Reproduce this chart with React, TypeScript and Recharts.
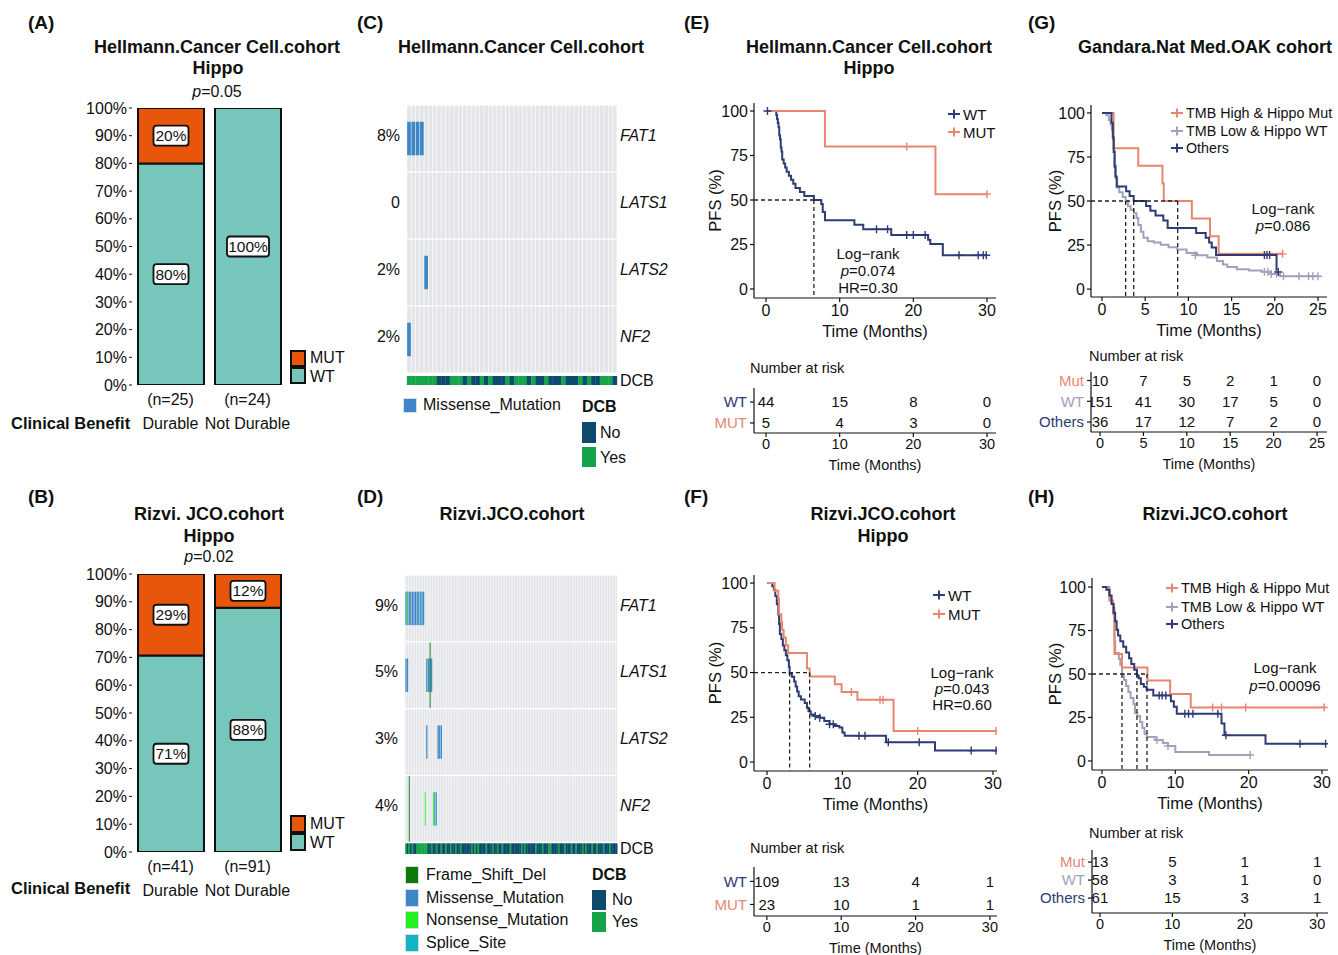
import React from "react";
import {
  BarChart,
  Bar,
  XAxis,
  YAxis,
  LabelList,
  ComposedChart,
  Line,
  Scatter,
  ScatterChart,
  ReferenceLine,
} from "recharts";

const FONT = '"Liberation Sans", Arial, Helvetica, sans-serif';
const INK = "#111";
const TEAL = "#76c6bc";
const ORANGE = "#e8560b";
const NAVY = "#2e3b75";
const SALMON = "#e8866f";
const LILAC = "#a3a0ba";
const GRID_BG = "#e4e5e8";
const DCB_NO = "#0d4a6e";
const DCB_YES = "#15a44a";

// ---- panels A / B : stacked proportions
const GROUPS = ["Durable", "Not Durable"];
const A_N = [25, 24];
const A_WT = [80, 100];
const A_MUT = [20, 0];
const B_N = [41, 91];
const B_WT = [70.7, 87.9];
const B_MUT = [29.3, 12.1];
const PCT_TICKS = [0, 10, 20, 30, 40, 50, 60, 70, 80, 90, 100];

// ---- panels C / D : oncoplots
const GENES = ["FAT1", "LATS1", "LATS2", "NF2"];
const C_PCT = ["8%", "0", "2%", "2%"];
const D_PCT = ["9%", "5%", "3%", "4%"];
const C_DCB = "YYYYYYYNNNYYYNYNNYNYNNNYNYYYNYNNYNNNYNNNYNYNNYYYN";
const C_MUT: Record<string, [number, string][]> = {
  FAT1: [[0, "Missense_Mutation"], [1, "Missense_Mutation"], [2, "Missense_Mutation"], [3, "Missense_Mutation"]],
  LATS1: [],
  LATS2: [[4, "Missense_Mutation"]],
  NF2: [[0, "Missense_Mutation"]],
};
const D_COUNT = 132;
const D_DCB_YES = [0, 2, 4, 7, 8, 9, 10, 11, 12, 13, 16, 19, 22, 25, 28, 31, 34, 41, 43, 45, 50, 54, 57, 60, 65, 72, 74, 81, 85, 89, 90, 95, 99, 103, 106, 110, 112, 116, 119, 123, 127];
const D_MUT: Record<string, [number, string][]> = {
  FAT1: [
    [0, "Missense_Mutation"], [1, "Missense_Mutation"], [1, "Nonsense_Mutation"], [2, "Missense_Mutation"],
    [3, "Missense_Mutation"], [4, "Missense_Mutation"], [5, "Missense_Mutation"], [6, "Missense_Mutation"],
    [7, "Missense_Mutation"], [8, "Missense_Mutation"], [9, "Missense_Mutation"], [9, "Splice_Site"],
    [10, "Missense_Mutation"], [11, "Missense_Mutation"],
  ],
  LATS1: [
    [0, "Missense_Mutation"], [1, "Missense_Mutation"], [13, "Missense_Mutation"], [14, "Missense_Mutation"],
    [15, "Missense_Mutation"], [15, "Frame_Shift_Del"], [16, "Missense_Mutation"],
  ],
  LATS2: [[13, "Missense_Mutation"], [20, "Missense_Mutation"], [21, "Missense_Mutation"], [22, "Missense_Mutation"]],
  NF2: [[2, "Frame_Shift_Del"], [12, "Nonsense_Mutation"], [17, "Nonsense_Mutation"], [18, "Missense_Mutation"], [19, "Splice_Site"]],
};
const MUT_COLORS: Record<string, string> = {
  Frame_Shift_Del: "#0b7a0b",
  Missense_Mutation: "#3d87c7",
  Nonsense_Mutation: "#22f022",
  Splice_Site: "#13b3c6",
};

// ---- panel E : Hellmann KM
const E_WT_T = [0, 1.4, 1.5, 1.6, 1.7, 1.8, 1.9, 2.0, 2.1, 2.2, 2.4, 2.6, 2.8, 3.1, 3.4, 3.7, 4.0, 4.6, 5.2, 6.5, 7.5, 7.7, 8.0, 12.0, 13.2, 17.0, 22.0, 22.3, 24.0, 30.0];
const E_WT_S = [100, 97.7, 95.5, 93.2, 90.9, 86.4, 84.1, 79.5, 77.3, 72.7, 70.5, 68.2, 65.9, 63.6, 61.4, 59.1, 56.8, 54.5, 52.3, 50.0, 47.7, 43.2, 38.6, 36.1, 33.6, 30.4, 27.6, 25.3, 19.0, 19.0];
const E_WT_CT = [0.2, 15.0, 16.5, 19.1, 20.0, 21.6, 26.2, 28.8, 29.5, 29.9];
const E_WT_CS = [100, 33.6, 33.6, 30.4, 30.4, 30.4, 19.0, 19.0, 19.0, 19.0];
const E_MUT_T = [0, 8.0, 23.0, 30.0];
const E_MUT_S = [100, 80, 53.3, 53.3];
const E_MUT_CT = [19.1, 30.0];
const E_MUT_CS = [80, 53.3];
const E_TIMES = [0, 10, 20, 30];
const E_RISK_WT = [44, 15, 8, 0];
const E_RISK_MUT = [5, 4, 3, 0];

// ---- panel F : Rizvi KM
const F_WT_T = [0, 0.7, 0.9, 1.1, 1.3, 1.5, 1.6, 1.7, 1.9, 2.1, 2.3, 2.5, 2.7, 2.9, 3.0, 3.3, 3.6, 3.8, 4.0, 4.2, 4.5, 5.0, 5.3, 5.5, 5.8, 6.3, 7.0, 7.6, 8.3, 9.0, 9.6, 10.0, 10.3, 15.8, 22.3, 30.5];
const F_WT_S = [100, 98.2, 96.3, 92.7, 88.1, 82.6, 77.1, 71.6, 68.8, 65.1, 62.4, 59.6, 56.9, 53.2, 49.5, 47.7, 45.0, 42.2, 39.4, 36.7, 34.9, 33.0, 30.3, 28.4, 26.6, 25.7, 24.8, 23.0, 21.1, 20.2, 19.3, 16.5, 14.7, 11.0, 6.4, 6.4];
const F_WT_CT = [6.4, 7.0, 8.3, 8.8, 12.2, 13.0, 16.1, 20.2, 27.1, 30.4];
const F_WT_CS = [25.7, 24.8, 21.1, 21.1, 14.7, 14.7, 11.0, 11.0, 6.4, 6.4];
const F_MUT_T = [0, 1.0, 1.5, 1.6, 1.9, 2.0, 2.2, 2.5, 2.8, 5.3, 5.66, 9.0, 9.9, 12.0, 16.8, 30.5];
const F_MUT_S = [100, 95.7, 91.3, 82.6, 78.3, 73.9, 69.6, 65.2, 60.9, 52.2, 47.8, 43.5, 39.1, 34.8, 17.4, 17.4];
const F_MUT_CT = [11.2, 15.0, 15.4, 20.0, 30.4];
const F_MUT_CS = [39.1, 34.8, 34.8, 17.4, 17.4];
const F_RISK_WT = [109, 13, 4, 1];
const F_RISK_MUT = [23, 10, 1, 1];

// ---- panel G : OAK KM
const G_MUT_T = [0, 1.35, 4.2, 7.0, 7.15, 10.4, 12.5, 13.5, 20.9];
const G_MUT_S = [100, 80, 70, 60, 50, 40, 30, 20, 20];
const G_MUT_CT = [20.9];
const G_MUT_CS = [20];
const G_WT_T = [0, 0.5, 0.8, 1.0, 1.15, 1.3, 1.4, 1.5, 1.6, 1.75, 2.0, 2.4, 2.74, 3.0, 3.3, 3.7, 4.0, 4.2, 4.5, 4.8, 5.3, 6.0, 6.8, 7.7, 8.7, 9.8, 11.0, 12.2, 13.3, 14.0, 14.5, 15.6, 17.0, 18.5, 19.5, 20.6, 25.0];
const G_WT_S = [100, 98.7, 96.0, 93.4, 90.1, 84.8, 78.1, 70.2, 62.9, 57.6, 55.0, 52.3, 49.7, 47.0, 45.0, 43.0, 40.4, 36.4, 32.5, 29.1, 27.2, 26.5, 25.2, 23.8, 22.5, 20.5, 19.2, 17.9, 15.9, 13.9, 12.6, 11.3, 10.6, 9.9, 8.6, 7.3, 7.3];
const G_WT_CT = [10.8, 18.8, 19.2, 19.6, 20.2, 21.0, 22.8, 23.9, 24.4, 25.0];
const G_WT_CS = [19.2, 9.9, 9.9, 8.6, 8.6, 7.3, 7.3, 7.3, 7.3, 7.3];
const G_OTH_T = [0, 1.1, 1.25, 1.35, 1.45, 1.55, 1.7, 2.8, 3.2, 3.67, 5.1, 5.6, 6.2, 7.1, 7.6, 10.9, 12.0, 12.4, 12.7, 13.2, 20.2, 20.4];
const G_OTH_S = [100, 94.4, 86.1, 77.8, 69.4, 63.9, 58.3, 55.6, 52.8, 50.0, 47.2, 44.4, 41.7, 38.9, 34.7, 31.9, 29.2, 26.4, 23.6, 19.4, 9.7, 9.7];
const G_OTH_CT = [18.8, 19.1, 19.4, 20.4];
const G_OTH_CS = [19.4, 19.4, 19.4, 9.7];
const G_TIMES = [0, 5, 10, 15, 20, 25];
const G_RISK_MUT = [10, 7, 5, 2, 1, 0];
const G_RISK_WT = [151, 41, 30, 17, 5, 0];
const G_RISK_OTH = [36, 17, 12, 7, 2, 0];

// ---- panel H : Rizvi 3 groups KM
const H_MUT_T = [0, 1.0, 1.5, 1.7, 2.73, 6.2, 9.3, 12.1, 30.5];
const H_MUT_S = [100, 92.3, 84.6, 61.5, 53.8, 46.2, 38.5, 30.8, 30.8];
const H_MUT_CT = [15.1, 16.3, 19.6, 30.3];
const H_MUT_CS = [30.8, 30.8, 30.8, 30.8];
const H_WT_T = [0, 0.9, 1.1, 1.3, 1.5, 1.7, 1.8, 2.3, 2.5, 2.73, 3.0, 3.3, 3.6, 3.9, 4.3, 4.5, 4.8, 5.2, 5.5, 5.8, 6.1, 7.3, 8.3, 9.0, 10.0, 14.6, 20.2];
const H_WT_S = [100, 98.3, 94.8, 91.4, 87.9, 69.0, 62.1, 58.6, 55.2, 50.0, 46.6, 43.1, 39.7, 36.2, 32.8, 27.6, 25.9, 22.4, 19.0, 15.5, 13.8, 12.1, 10.3, 8.6, 5.2, 3.4, 3.4];
const H_WT_CT = [7.5, 9.0, 20.2];
const H_WT_CS = [12.1, 8.6, 3.4];
const H_OTH_T = [0, 0.6, 1.0, 1.3, 1.6, 1.8, 2.0, 2.2, 2.5, 2.9, 3.3, 3.7, 4.0, 4.4, 4.77, 5.0, 5.3, 5.7, 6.1, 7.0, 9.4, 9.8, 10.2, 16.3, 16.7, 22.3, 30.5];
const H_OTH_S = [100, 98.4, 95.1, 90.2, 85.2, 80.3, 75.4, 72.1, 68.9, 65.6, 62.3, 59.0, 55.7, 52.5, 49.2, 47.5, 44.3, 42.6, 41.0, 37.7, 34.4, 31.1, 27.2, 21.5, 14.8, 9.9, 9.9];
const H_OTH_CT = [7.8, 8.2, 8.7, 11.3, 11.8, 12.4, 15.8, 16.9, 27.0, 30.5];
const H_OTH_CS = [37.7, 37.7, 37.7, 27.2, 27.2, 27.2, 27.2, 14.8, 9.9, 9.9];
const H_RISK_MUT = [13, 5, 1, 1];
const H_RISK_WT = [58, 3, 1, 0];
const H_RISK_OTH = [61, 15, 3, 1];

const SURV_TICKS = [0, 25, 50, 75, 100];

// ---------- small html helpers
type TxtProps = {
  x: number;
  y: number;
  size?: number;
  bold?: boolean;
  italic?: boolean;
  color?: string;
  align?: "left" | "center" | "right";
  children: React.ReactNode;
};

const Txt = ({ x, y, size = 16, bold, italic, color = INK, align = "center", children }: TxtProps) => {
  const tx = align === "center" ? "-50%" : align === "right" ? "-100%" : "0";
  return (
    <div
      style={{
        position: "absolute",
        left: x,
        top: y,
        transform: `translate(${tx}, -50%)`,
        fontSize: size,
        fontWeight: bold ? 700 : 400,
        fontStyle: italic ? "italic" : "normal",
        color,
        whiteSpace: "nowrap",
        lineHeight: 1,
      }}
    >
      {children}
    </div>
  );
};

const Sq = ({ x, y, w, h, color, border }: any) => (
  <div
    style={{
      position: "absolute",
      left: x,
      top: y,
      width: w,
      height: h,
      background: color,
      boxSizing: "border-box",
      border: border || "none",
    }}
  />
);

const KMKey = ({ x, y, color, label, size = 15 }: any) => (
  <>
    <svg style={{ position: "absolute", left: x - 7, top: y - 6 }} width={14} height={12}>
      <path d="M1,6h12M7,1.5v9" stroke={color} strokeWidth={2} />
    </svg>
    <Txt x={x + 9} y={y} align="left" size={size}>
      {label}
    </Txt>
  </>
);

// ---------- A / B
const BoxLabel = (p: any) => {
  const vb = p.viewBox ?? p;
  const value = Number(p.value);
  if (!value) return null;
  const txt = `${Math.round(value)}%`;
  const cx = vb.x + vb.width / 2;
  const cy = vb.y + vb.height / 2;
  const bw = txt.length > 3 ? 42 : 35;
  return (
    <g>
      <rect x={cx - bw / 2} y={cy - 10} width={bw} height={20} rx={3} fill="#fff" stroke={INK} strokeWidth={1.8} />
      <text x={cx} y={cy} dy="0.36em" textAnchor="middle" fontSize={15.5} fill={INK}>
        {txt}
      </text>
    </g>
  );
};

function StackPanel({ left, top, height, n, wt, mut }: any) {
  const data = GROUPS.map((g, i) => ({ group: g, n: n[i], WT: wt[i], MUT: mut[i] }));
  const GroupTick = (p: any) => {
    const row = data.find((d) => d.group === p.payload.value);
    return (
      <g>
        <text x={p.x} y={p.y + 20} textAnchor="middle" fontSize={16} fill={INK}>
          (n={row ? row.n : ""})
        </text>
        <text x={p.x} y={p.y + 44} textAnchor="middle" fontSize={16} fill={INK}>
          {p.payload.value}
        </text>
      </g>
    );
  };
  return (
    <div style={{ position: "absolute", left, top }}>
      <BarChart width={244} height={height} data={data} margin={{ top: 10, right: 18, bottom: 0, left: 12 }} barSize={66}>
        <XAxis dataKey="group" axisLine={false} tickLine={false} tickSize={0} tickMargin={0} height={50} interval={0} tick={GroupTick} />
        <YAxis
          domain={[0, 100]}
          ticks={PCT_TICKS}
          interval={0}
          tickFormatter={(v) => `${v}%`}
          width={60}
          axisLine={false}
          stroke={INK}
          tickSize={3}
          tickMargin={2}
          tick={{ fill: INK, fontSize: 16 }}
          allowDataOverflow
        />
        <Bar dataKey="WT" stackId="s" fill={TEAL} stroke={INK} strokeWidth={2} isAnimationActive={false}>
          <LabelList dataKey="WT" content={BoxLabel} />
        </Bar>
        <Bar dataKey="MUT" stackId="s" fill={ORANGE} stroke={INK} strokeWidth={2} isAnimationActive={false}>
          <LabelList dataKey="MUT" content={BoxLabel} />
        </Bar>
      </BarChart>
    </div>
  );
}

// ---------- C / D oncoplot
// cells are centred on the bar the library places, widened to the full sample band
const GeneCell = (p: any) => {
  const { x, y, width: w, height: h, payload, gene, band, sep } = p;
  if (x == null || !payload) return null;
  const muts: string[] = payload.m[gene] || [];
  const cw = band - sep;
  const x0 = x + w / 2 - cw / 2;
  const thin = Math.max(band * 0.5, 0.9);
  const tx = x + w / 2 - thin / 2;
  return (
    <g>
      <rect x={x0} y={y + 0.6} width={cw} height={h - 1.2} fill={GRID_BG} />
      {muts.includes("Missense_Mutation") && (
        <rect x={x0} y={y + h / 4} width={cw} height={h / 2} fill={MUT_COLORS.Missense_Mutation} />
      )}
      {muts.includes("Splice_Site") && (
        <rect x={tx} y={y + h / 4} width={thin} height={h / 2} fill={MUT_COLORS.Splice_Site} />
      )}
      {muts.includes("Frame_Shift_Del") && (
        <rect x={tx} y={y + 0.6} width={thin} height={h - 1.2} fill={MUT_COLORS.Frame_Shift_Del} />
      )}
      {muts.includes("Nonsense_Mutation") && (
        <rect x={tx} y={y + h / 4} width={thin} height={h / 2} fill={MUT_COLORS.Nonsense_Mutation} />
      )}
    </g>
  );
};

const DcbCell = (p: any) => {
  if (p.x == null || !p.payload) return null;
  const x0 = p.x + p.width / 2 - p.band / 2;
  return <rect x={x0} y={p.y} width={p.band + 0.3} height={p.height} fill={p.payload.d === "Y" ? DCB_YES : DCB_NO} />;
};

function OncoPanel({ left, top, width, height, leftW, dcb, muts, pct, dcbH, gapH, sep }: any) {
  const data = dcb.map((d: string, i: number) => {
    const m: Record<string, string[]> = {};
    GENES.forEach((g) => {
      m[g] = muts[g].filter((e: [number, string]) => e[0] === i).map((e: [number, string]) => e[1]);
    });
    return { id: i, d, m, dcb: dcbH, gap: gapH, FAT1: 1, LATS1: 1, LATS2: 1, NF2: 1 };
  });
  const rightW = 60;
  const pad = 10;
  const band = (width - leftW - rightW) / data.length;
  const total = dcbH + gapH + GENES.length;
  // gene rows are stacked bottom-up: NF2, LATS2, LATS1, FAT1
  const centers = GENES.map((_, i) => dcbH + gapH + (GENES.length - 1 - i) + 0.5);
  const idx = (v: number) => centers.findIndex((c) => Math.abs(c - v) < 1e-6);
  const LeftTick = (p: any) => {
    const i = idx(p.payload.value);
    return (
      <text x={p.x} y={p.y - 3.5} dy="0.36em" textAnchor="end" fontSize={16} fill={INK}>
        {i >= 0 ? pct[i] : ""}
      </text>
    );
  };
  const RightTick = (p: any) => {
    const i = idx(p.payload.value);
    return (
      <text x={p.x} y={i >= 0 ? p.y - 3.5 : p.y} dy="0.36em" textAnchor="start" fontSize={16} fill={INK} fontStyle={i >= 0 ? "italic" : "normal"}>
        {i >= 0 ? GENES[i] : "DCB"}
      </text>
    );
  };
  return (
    <div style={{ position: "absolute", left, top: top - pad }}>
      <BarChart width={width} height={height + 2 * pad} data={data} margin={{ top: pad, right: 0, bottom: pad, left: 0 }} barCategoryGap={0}>
        <XAxis dataKey="id" hide />
        <YAxis
          yAxisId="l"
          type="number"
          domain={[0, total]}
          ticks={centers}
          interval={0}
          allowDataOverflow
          width={leftW}
          axisLine={false}
          tickLine={false}
          tickSize={0}
          tickMargin={7}
          tick={LeftTick}
        />
        <YAxis
          yAxisId="r"
          orientation="right"
          type="number"
          domain={[0, total]}
          ticks={[dcbH / 2, ...centers]}
          interval={0}
          allowDataOverflow
          width={rightW}
          axisLine={false}
          tickLine={false}
          tickSize={0}
          tickMargin={3}
          tick={RightTick}
        />
        <Bar yAxisId="l" dataKey="dcb" stackId="a" shape={(p: any) => <DcbCell {...p} band={band} />} isAnimationActive={false} />
        <Bar yAxisId="l" dataKey="gap" stackId="a" fill="transparent" isAnimationActive={false} />
        {GENES.slice()
          .reverse()
          .map((g) => (
            <Bar
              key={g}
              yAxisId="l"
              dataKey={g}
              stackId="a"
              shape={(p: any) => <GeneCell {...p} gene={g} band={band} sep={sep} />}
              isAnimationActive={false}
            />
          ))}
      </BarChart>
    </div>
  );
}

// ---------- KM
type Curve = { key: string; t: number[]; s: number[]; ct: number[]; cs: number[]; color: string };
const pts = (t: number[], s: number[]) => t.map((v, i) => ({ t: v, s: s[i] }));

const Plus = (p: any) => {
  const { cx, cy, fill } = p;
  if (cx == null || cy == null) return null;
  return <path d={`M${cx - 4},${cy}h8M${cx},${cy - 4}v8`} stroke={fill} strokeWidth={1.4} />;
};

const timeTitle = (size: number, dy: number) => (p: any) => {
  const vb = p.viewBox || {};
  return (
    <text x={vb.x + vb.width / 2} y={vb.y + dy} textAnchor="middle" fontSize={size} fill={INK}>
      Time (Months)
    </text>
  );
};

const pfsTitle = (p: any) => {
  const vb = p.viewBox || {};
  const cx = vb.x + 31;
  const cy = vb.y + vb.height / 2;
  return (
    <text x={cx} y={cy} transform={`rotate(-90 ${cx} ${cy})`} textAnchor="middle" fontSize={16.5} fill={INK}>
      PFS (%)
    </text>
  );
};

function KMPanel({ left, top, width, height, yW, mr, xDomain, yDomain, xTicks, curves, medians }: any) {
  const mMax = Math.max(...medians);
  return (
    <div style={{ position: "absolute", left, top }}>
      <ComposedChart width={width} height={height} margin={{ top: 8, right: mr, bottom: 0, left: 0 }}>
        <XAxis
          type="number"
          dataKey="t"
          domain={xDomain}
          ticks={xTicks}
          interval={0}
          allowDataOverflow
          height={45}
          stroke={INK}
          strokeWidth={1.2}
          tickSize={4}
          tickMargin={3}
          tick={{ fill: INK, fontSize: 16 }}
          label={timeTitle(16.5, 39)}
        />
        <YAxis
          type="number"
          dataKey="s"
          domain={yDomain}
          ticks={SURV_TICKS}
          interval={0}
          allowDataOverflow
          width={yW}
          stroke={INK}
          strokeWidth={1.2}
          tickSize={4}
          tickMargin={2}
          tick={{ fill: INK, fontSize: 16 }}
          label={pfsTitle}
        />
        {curves.map((c: Curve) => (
          <Line
            key={c.key}
            data={pts(c.t, c.s)}
            dataKey="s"
            type="stepAfter"
            stroke={c.color}
            strokeWidth={2}
            dot={false}
            activeDot={false}
            isAnimationActive={false}
          />
        ))}
        {curves.map((c: Curve) => (
          <Scatter key={c.key + "c"} data={pts(c.ct, c.cs)} dataKey="s" fill={c.color} shape={Plus} isAnimationActive={false} />
        ))}
        <ReferenceLine
          segment={[{ x: xDomain[0], y: 50 }, { x: mMax, y: 50 }]}
          stroke="#222"
          strokeWidth={1.3}
          strokeDasharray="4 3"
          ifOverflow="visible"
        />
        {medians.map((m: number) => (
          <ReferenceLine
            key={m}
            segment={[{ x: m, y: 50 }, { x: m, y: yDomain[0] }]}
            stroke="#222"
            strokeWidth={1.3}
            strokeDasharray="4 3"
            ifOverflow="visible"
          />
        ))}
      </ComposedChart>
    </div>
  );
}

const RiskNum = (p: any) => {
  if (p.cx == null || !p.payload) return null;
  return (
    <text x={p.cx} y={p.cy} dy="0.36em" textAnchor="middle" fontSize={15} fill={INK}>
      {p.payload.n}
    </text>
  );
};

function RiskTable({ left, top, width, height, yW, mr, xDomain, yDomain, times, rows }: any) {
  const data = rows.flatMap((r: any, ri: number) =>
    r.values.map((n: number, i: number) => ({ t: times[i], row: rows.length - ri, n }))
  );
  const RowTick = (p: any) => {
    const r = rows[rows.length - p.payload.value];
    if (!r) return null;
    return (
      <text x={p.x} y={p.y} dy="0.36em" textAnchor="end" fontSize={15} fill={r.color}>
        {r.label}
      </text>
    );
  };
  return (
    <div style={{ position: "absolute", left, top }}>
      <ScatterChart width={width} height={height} margin={{ top: 0, right: mr, bottom: 0, left: 0 }}>
        <XAxis
          type="number"
          dataKey="t"
          domain={xDomain}
          ticks={times}
          interval={0}
          allowDataOverflow
          height={40}
          stroke={INK}
          strokeWidth={1.2}
          tickSize={4}
          tickMargin={2}
          tick={{ fill: INK, fontSize: 14.5 }}
          label={timeTitle(14.5, 37)}
        />
        <YAxis
          type="number"
          dataKey="row"
          domain={yDomain}
          ticks={rows.map((_: any, i: number) => i + 1)}
          interval={0}
          allowDataOverflow
          width={yW}
          stroke={INK}
          strokeWidth={1.2}
          tickSize={4}
          tickMargin={3}
          tick={RowTick}
        />
        <Scatter data={data} shape={RiskNum} isAnimationActive={false} />
      </ScatterChart>
    </div>
  );
}

export default function App() {
  const cDcb = C_DCB.split("");
  const dDcb = Array.from({ length: D_COUNT }, (_, i) => (D_DCB_YES.includes(i) ? "Y" : "N"));

  const eCurves: Curve[] = [
    { key: "wt", t: E_WT_T, s: E_WT_S, ct: E_WT_CT, cs: E_WT_CS, color: NAVY },
    { key: "mut", t: E_MUT_T, s: E_MUT_S, ct: E_MUT_CT, cs: E_MUT_CS, color: SALMON },
  ];
  const fCurves: Curve[] = [
    { key: "wt", t: F_WT_T, s: F_WT_S, ct: F_WT_CT, cs: F_WT_CS, color: NAVY },
    { key: "mut", t: F_MUT_T, s: F_MUT_S, ct: F_MUT_CT, cs: F_MUT_CS, color: SALMON },
  ];
  const gCurves: Curve[] = [
    { key: "wt", t: G_WT_T, s: G_WT_S, ct: G_WT_CT, cs: G_WT_CS, color: LILAC },
    { key: "mut", t: G_MUT_T, s: G_MUT_S, ct: G_MUT_CT, cs: G_MUT_CS, color: SALMON },
    { key: "oth", t: G_OTH_T, s: G_OTH_S, ct: G_OTH_CT, cs: G_OTH_CS, color: NAVY },
  ];
  const hCurves: Curve[] = [
    { key: "wt", t: H_WT_T, s: H_WT_S, ct: H_WT_CT, cs: H_WT_CS, color: LILAC },
    { key: "mut", t: H_MUT_T, s: H_MUT_S, ct: H_MUT_CT, cs: H_MUT_CS, color: SALMON },
    { key: "oth", t: H_OTH_T, s: H_OTH_S, ct: H_OTH_CT, cs: H_OTH_CS, color: NAVY },
  ];

  return (
    <div
      style={{
        position: "absolute",
        left: 0,
        top: 0,
        width: 1338,
        height: 955,
        background: "#fff",
        fontFamily: FONT,
        color: INK,
        overflow: "hidden",
      }}
    >
      {/* panel letters */}
      <Txt x={28} y={22} size={19} bold align="left">(A)</Txt>
      <Txt x={28} y={496} size={19} bold align="left">(B)</Txt>
      <Txt x={357} y={22} size={19} bold align="left">(C)</Txt>
      <Txt x={357} y={496} size={19} bold align="left">(D)</Txt>
      <Txt x={684} y={22} size={19} bold align="left">(E)</Txt>
      <Txt x={684} y={496} size={19} bold align="left">(F)</Txt>
      <Txt x={1028} y={22} size={19} bold align="left">(G)</Txt>
      <Txt x={1028} y={496} size={19} bold align="left">(H)</Txt>

      {/* A */}
      <Txt x={217} y={47} size={18} bold>Hellmann.Cancer Cell.cohort</Txt>
      <Txt x={218} y={68} size={18} bold>Hippo</Txt>
      <Txt x={217} y={92} size={16}><i>p</i>=0.05</Txt>
      <StackPanel left={60} top={98} height={337} n={A_N} wt={A_WT} mut={A_MUT} />
      <Sq x={290} y={350} w={16} h={17} color={ORANGE} border="2px solid #111" />
      <Sq x={290} y={367} w={16} h={17} color={TEAL} border="2px solid #111" />
      <Txt x={310} y={358} size={16} align="left">MUT</Txt>
      <Txt x={310} y={377} size={16} align="left">WT</Txt>
      <Txt x={11} y={423} size={16.5} bold align="left">Clinical Benefit</Txt>

      {/* B */}
      <Txt x={209} y={514} size={18} bold>Rizvi. JCO.cohort</Txt>
      <Txt x={209} y={536} size={18} bold>Hippo</Txt>
      <Txt x={209} y={557} size={16}><i>p</i>=0.02</Txt>
      <StackPanel left={60} top={564} height={338} n={B_N} wt={B_WT} mut={B_MUT} />
      <Sq x={290} y={815} w={16} h={18} color={ORANGE} border="2px solid #111" />
      <Sq x={290} y={833} w={16} h={18} color={TEAL} border="2px solid #111" />
      <Txt x={310} y={824} size={16} align="left">MUT</Txt>
      <Txt x={310} y={843} size={16} align="left">WT</Txt>
      <Txt x={11} y={888} size={16.5} bold align="left">Clinical Benefit</Txt>

      {/* C */}
      <Txt x={521} y={47} size={18} bold>Hellmann.Cancer Cell.cohort</Txt>
      <OncoPanel left={370} top={105} width={307} height={280} leftW={37} dcb={cDcb} muts={C_MUT} pct={C_PCT} dcbH={0.134} gapH={0.045} sep={0.6} />
      <Sq x={403} y={398} w={14} h={15} color={MUT_COLORS.Missense_Mutation} border="1px solid #dcdcdf" />
      <Txt x={423} y={405} size={16} align="left">Missense_Mutation</Txt>
      <Txt x={582} y={407} size={16} bold align="left">DCB</Txt>
      <Sq x={582} y={422} w={14} h={21} color={DCB_NO} />
      <Sq x={582} y={447} w={14} h={20} color={DCB_YES} />
      <Txt x={600} y={433} size={16} align="left">No</Txt>
      <Txt x={600} y={458} size={16} align="left">Yes</Txt>

      {/* D */}
      <Txt x={512} y={514} size={18} bold>Rizvi.JCO.cohort</Txt>
      <OncoPanel left={370} top={575} width={307} height={279} leftW={35} dcb={dDcb} muts={D_MUT} pct={D_PCT} dcbH={0.16} gapH={0.015} sep={0.3} />
      {[
        ["Frame_Shift_Del", 875],
        ["Missense_Mutation", 898],
        ["Nonsense_Mutation", 920],
        ["Splice_Site", 943],
      ].map(([k, y]) => (
        <React.Fragment key={k as string}>
          <Sq x={405} y={(y as number) - 9} w={14} h={18} color={MUT_COLORS[k as string]} border="1px solid #dcdcdf" />
          <Txt x={426} y={y as number} size={16} align="left">{k}</Txt>
        </React.Fragment>
      ))}
      <Txt x={592} y={875} size={16} bold align="left">DCB</Txt>
      <Sq x={592} y={890} w={14} h={20} color={DCB_NO} />
      <Sq x={592} y={912} w={14} h={20} color={DCB_YES} />
      <Txt x={612} y={900} size={16} align="left">No</Txt>
      <Txt x={612} y={922} size={16} align="left">Yes</Txt>

      {/* E */}
      <Txt x={869} y={47} size={18} bold>Hellmann.Cancer Cell.cohort</Txt>
      <Txt x={869} y={68} size={18} bold>Hippo</Txt>
      <KMPanel left={690} top={95} width={316} height={248} yW={64} mr={10} xDomain={[-1.63, 31.22]} yDomain={[-5.06, 104.5]} xTicks={E_TIMES} curves={eCurves} medians={[6.5]} />
      <KMKey x={954} y={114} color={NAVY} label="WT" />
      <KMKey x={954} y={132} color={SALMON} label="MUT" />
      <Txt x={868} y={253} size={15}>Log−rank</Txt>
      <Txt x={868} y={270} size={15}><i>p</i>=0.074</Txt>
      <Txt x={868} y={287} size={15}>HR=0.30</Txt>
      <Txt x={750} y={368} size={14.5} align="left">Number at risk</Txt>
      <RiskTable
        left={690}
        top={388}
        width={316}
        height={85}
        yW={64}
        mr={10}
        xDomain={[-1.63, 31.22]}
        yDomain={[0.52, 2.67]}
        times={E_TIMES}
        rows={[
          { label: "WT", color: NAVY, values: E_RISK_WT },
          { label: "MUT", color: SALMON, values: E_RISK_MUT },
        ]}
      />

      {/* F */}
      <Txt x={883} y={514} size={18} bold>Rizvi.JCO.cohort</Txt>
      <Txt x={883} y={536} size={18} bold>Hippo</Txt>
      <KMPanel left={690} top={567} width={317} height={249} yW={64} mr={10} xDomain={[-1.73, 30.53]} yDomain={[-5, 104.5]} xTicks={E_TIMES} curves={fCurves} medians={[3.0, 5.66]} />
      <KMKey x={939} y={595} color={NAVY} label="WT" />
      <KMKey x={939} y={614} color={SALMON} label="MUT" />
      <Txt x={962} y={672} size={15}>Log−rank</Txt>
      <Txt x={962} y={688} size={15}><i>p</i>=0.043</Txt>
      <Txt x={962} y={704} size={15}>HR=0.60</Txt>
      <Txt x={750} y={848} size={14.5} align="left">Number at risk</Txt>
      <RiskTable
        left={690}
        top={867}
        width={317}
        height={89}
        yW={64}
        mr={10}
        xDomain={[-1.73, 30.95]}
        yDomain={[0.5, 2.625]}
        times={E_TIMES}
        rows={[
          { label: "WT", color: NAVY, values: F_RISK_WT },
          { label: "MUT", color: SALMON, values: F_RISK_MUT },
        ]}
      />

      {/* G */}
      <Txt x={1205} y={47} size={18} bold>Gandara.Nat Med.OAK cohort</Txt>
      <KMPanel left={1030} top={97} width={305} height={245} yW={61} mr={8} xDomain={[-1.27, 26.04]} yDomain={[-4.5, 104.5]} xTicks={G_TIMES} curves={gCurves} medians={[2.74, 3.67, 8.76]} />
      <KMKey x={1177} y={113} color={SALMON} label="TMB High & Hippo Mut" size={14.3} />
      <KMKey x={1177} y={131} color={LILAC} label="TMB Low & Hippo WT" size={14.3} />
      <KMKey x={1177} y={148} color={NAVY} label="Others" size={14.3} />
      <Txt x={1283} y={208} size={15}>Log−rank</Txt>
      <Txt x={1283} y={225} size={15}><i>p</i>=0.086</Txt>
      <Txt x={1089} y={356} size={14.5} align="left">Number at risk</Txt>
      <RiskTable
        left={1030}
        top={372}
        width={305}
        height={100}
        yW={61}
        mr={8}
        xDomain={[-1.04, 26.15]}
        yDomain={[0.52, 3.41]}
        times={G_TIMES}
        rows={[
          { label: "Mut", color: SALMON, values: G_RISK_MUT },
          { label: "WT", color: LILAC, values: G_RISK_WT },
          { label: "Others", color: NAVY, values: G_RISK_OTH },
        ]}
      />

      {/* H */}
      <Txt x={1215} y={514} size={18} bold>Rizvi.JCO.cohort</Txt>
      <KMPanel left={1030} top={570} width={306} height={245} yW={62} mr={8} xDomain={[-1.36, 30.82]} yDomain={[-5.2, 105.2]} xTicks={E_TIMES} curves={hCurves} medians={[2.73, 4.77, 6.14]} />
      <KMKey x={1172} y={588} color={SALMON} label="TMB High & Hippo Mut" size={14.5} />
      <KMKey x={1172} y={607} color={LILAC} label="TMB Low & Hippo WT" size={14.5} />
      <KMKey x={1172} y={624} color={NAVY} label="Others" size={14.5} />
      <Txt x={1285} y={667} size={15}>Log−rank</Txt>
      <Txt x={1285} y={685} size={15}><i>p</i>=0.00096</Txt>
      <Txt x={1089} y={833} size={14.5} align="left">Number at risk</Txt>
      <RiskTable
        left={1030}
        top={850}
        width={306}
        height={103}
        yW={62}
        mr={8}
        xDomain={[-1.1, 31.5]}
        yDomain={[0.17, 3.67]}
        times={E_TIMES}
        rows={[
          { label: "Mut", color: SALMON, values: H_RISK_MUT },
          { label: "WT", color: LILAC, values: H_RISK_WT },
          { label: "Others", color: NAVY, values: H_RISK_OTH },
        ]}
      />
    </div>
  );
}
